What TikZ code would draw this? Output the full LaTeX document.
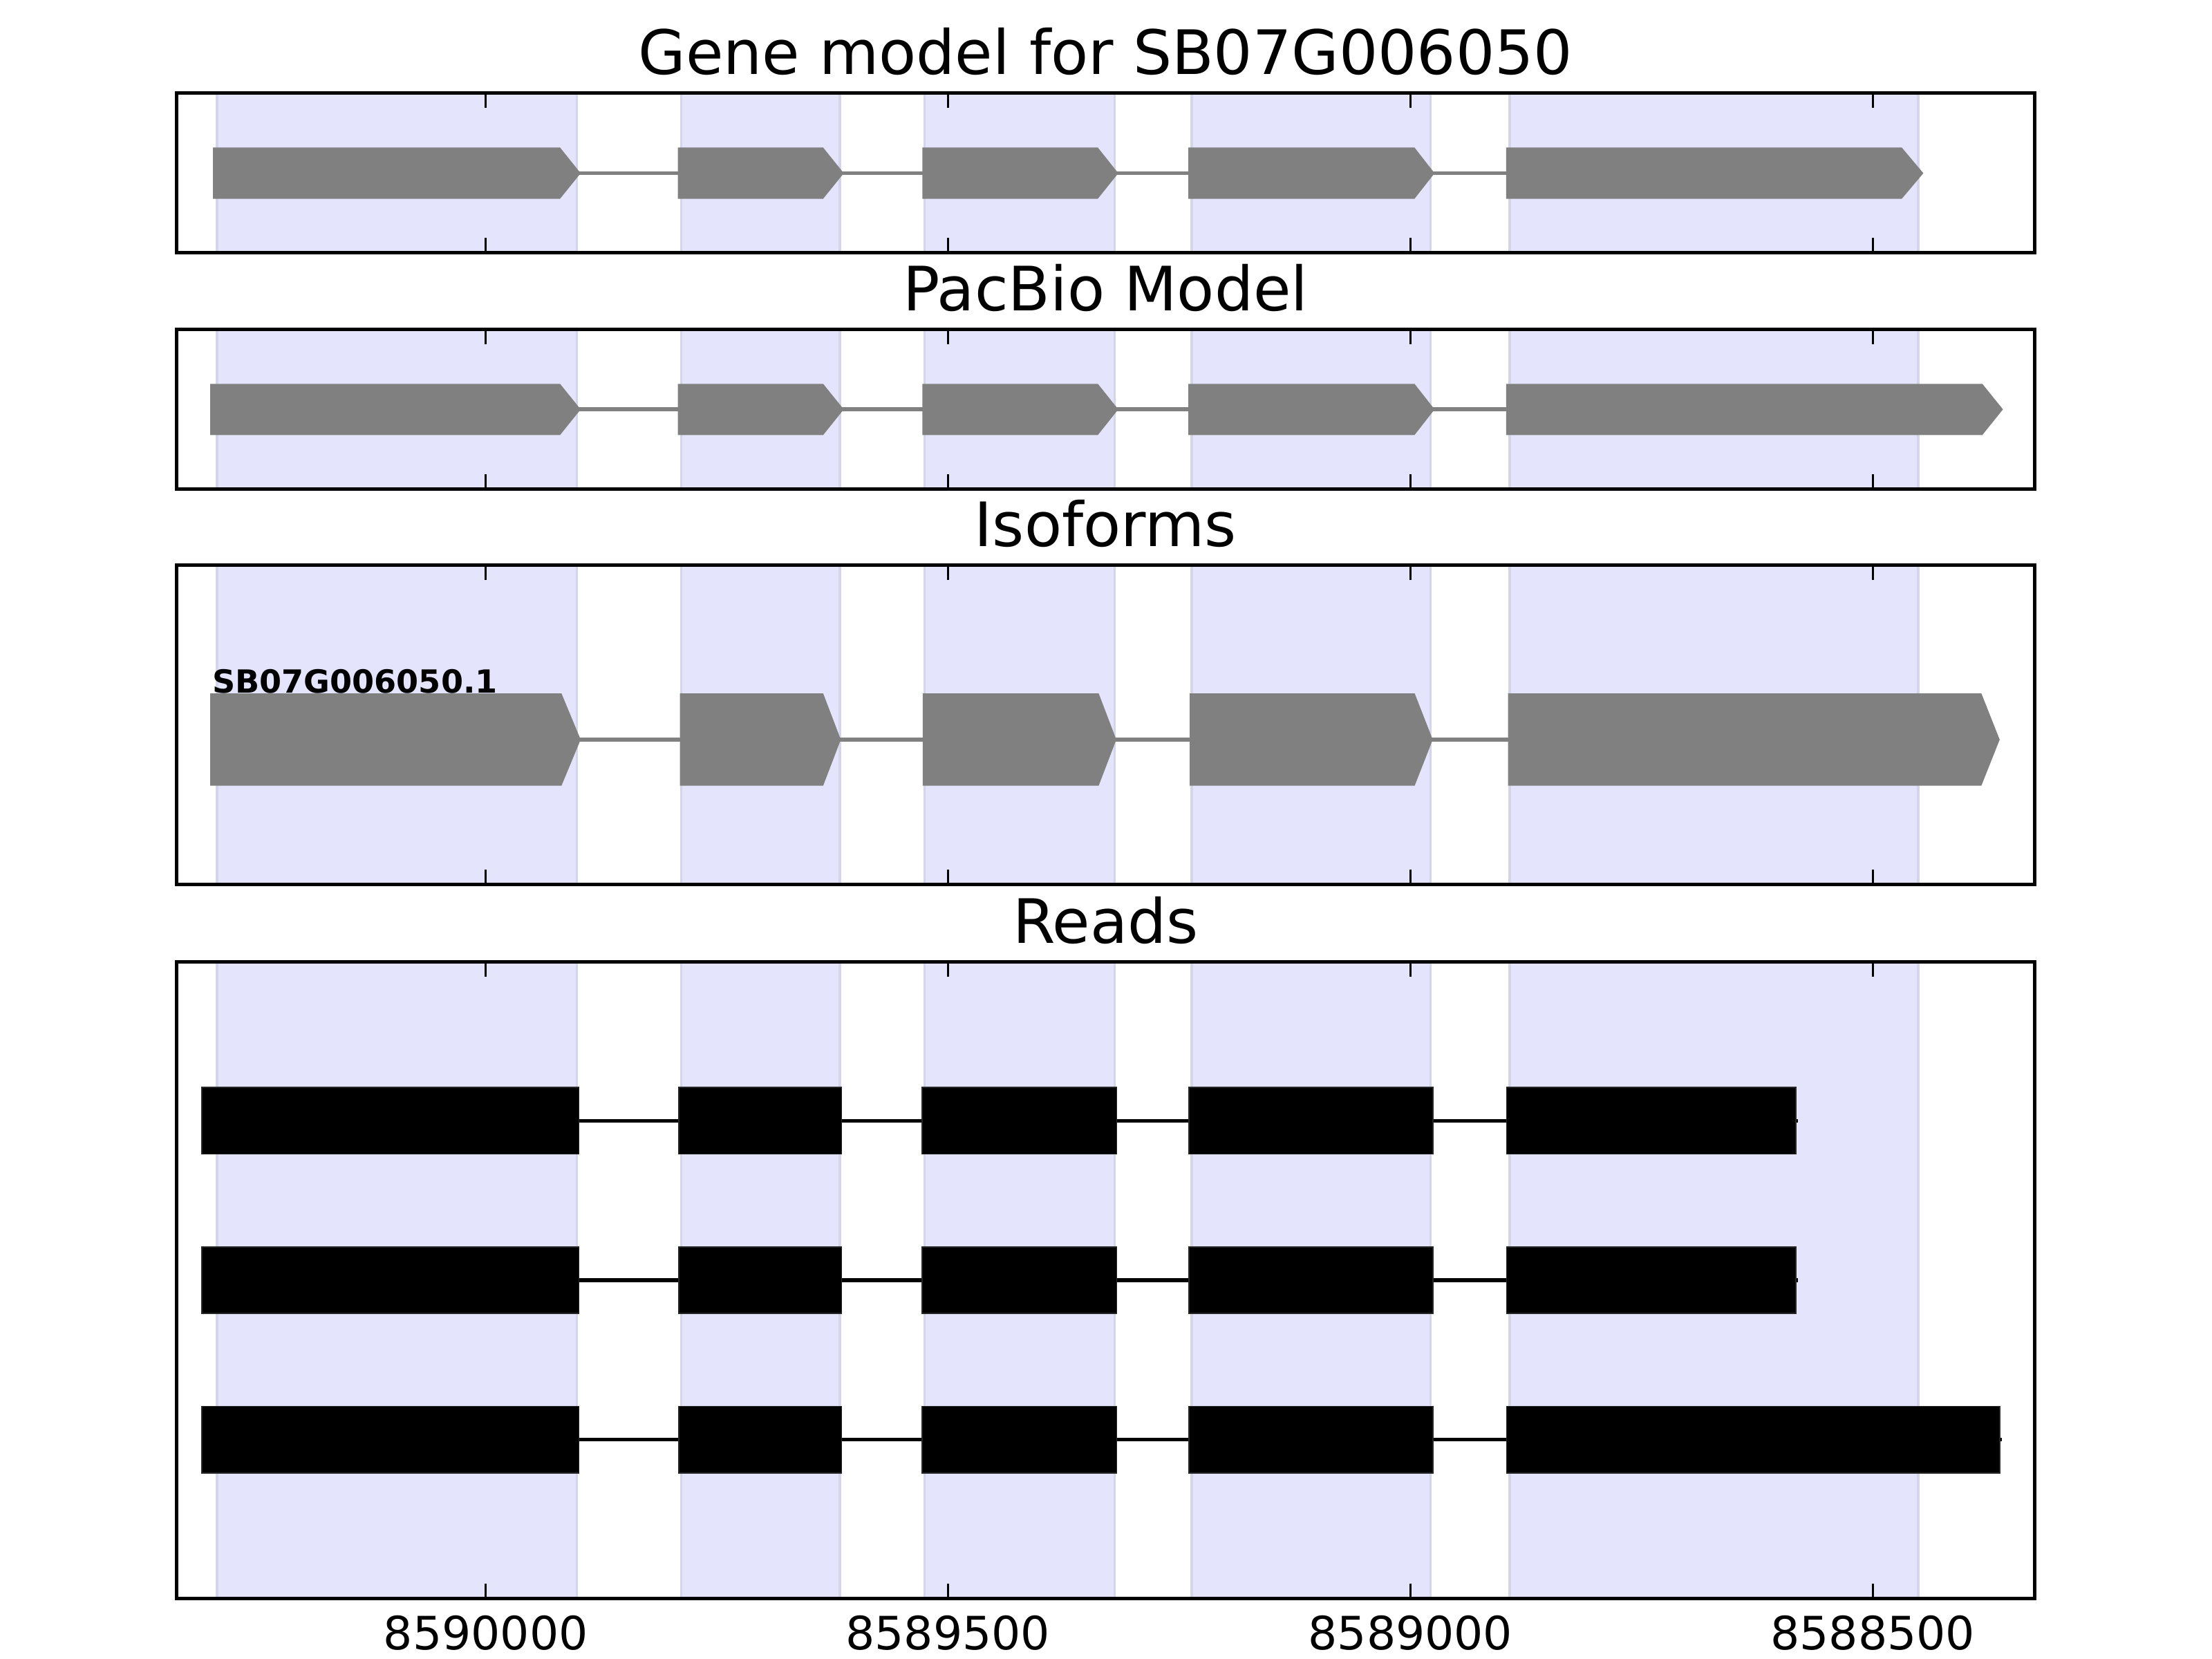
\documentclass[tikz,border=0pt]{standalone}
\usepackage{fontspec}
\setmainfont{DejaVu Sans}
\definecolor{spanfillc}{HTML}{E4E4FC}
\definecolor{spanedgec}{HTML}{D5D5EA}
\definecolor{exongray}{HTML}{808080}
\tikzset{
  panelbox/.style={draw=black, line width=0.9pt},
  tickmark/.style={draw=black, line width=0.5pt},
  spanbox/.style={fill=spanfillc, draw=spanedgec, line width=0.6pt},
  garrow/.style={fill=exongray},
  gline/.style={draw=exongray, line width=1pt},
  rline/.style={draw=black, line width=1pt},
  rexon/.style={fill=black, draw=black!85, line width=0.3pt},
  ptitle/.style={font=\fontsize{16}{19}\selectfont, anchor=base, inner sep=0pt},
  ticklabel/.style={font=\fontsize{12}{14}\selectfont, anchor=base, inner sep=0pt},
  isolabel/.style={font=\fontsize{8.33}{10}\selectfont\bfseries, anchor=base west, inner sep=0pt},
}
\begin{document}
\begin{tikzpicture}[x=0.368724pt, y=-0.368724pt]
\useasboundingbox (0,0) rectangle (1568,1176);

% ---------- shaded exon regions in every panel ----------
\foreach \pt/\pb in {66.0/179.1, 233.6/346.7, 400.7/627.1, 681.9/1133.3}{
  \foreach \sa/\sb in {153.8/409.0, 483.0/595.3, 655.4/790.2, 844.7/1014.0, 1070.1/1359.7}{
    \filldraw[spanbox] (\sa,\pt) rectangle (\sb,\pb);
  }
}

% ---------- panel 1: gene model ----------
\def\ta{104.6}\def\ma{122.8}\def\ba{140.9}
\draw[gline] (405,\ma) -- (1070,\ma);
\foreach \l/\s/\p in {151/397/411.6, 480.5/583.5/598.1, 653.8/778.2/792.7, 842.4/1002.7/1016.9, 1067.7/1348.1/1363.4}{
  \fill[garrow] (\l,\ta) -- (\s,\ta) -- (\p,\ma) -- (\s,\ba) -- (\l,\ba) -- cycle;
}

% ---------- panel 2: PacBio model ----------
\def\tb{272.1}\def\mb{290.2}\def\bb{308.4}
\draw[gline] (405,\mb) -- (1070,\mb);
\foreach \l/\s/\p in {149/397/411.6, 480.5/583.5/598.1, 653.8/778.2/792.7, 842.4/1002.7/1016.9, 1067.7/1405.2/1419.8}{
  \fill[garrow] (\l,\tb) -- (\s,\tb) -- (\p,\mb) -- (\s,\bb) -- (\l,\bb) -- cycle;
}

% ---------- panel 3: isoforms ----------
\def\tc{491.5}\def\mc{524.3}\def\bc{557.0}
\draw[gline] (405,\mc) -- (1070,\mc);
\foreach \l/\s/\p in {149/398/411.6, 482/583.5/596, 654.1/778.8/791.3, 843.4/1002.8/1015.6, 1069/1404.5/1417.5}{
  \fill[garrow] (\l,\tc) -- (\s,\tc) -- (\p,\mc) -- (\s,\bc) -- (\l,\bc) -- cycle;
}
\node[isolabel] (iso) at (150,491) {SB07G006050.1};

% ---------- panel 4: reads ----------
\foreach \c/\e in {794.5/1273, 907.5/1273, 1020.5/1417.6}{
  \draw[rline] (143.1,\c) -- (\e+1.5,\c);
  \foreach \l/\r in {143.1/410.3, 481.2/596.6, 653.8/791.6, 842.8/1015.9, 1068/\e}{
    \filldraw[rexon] (\l,\c-23.6) rectangle (\r,\c+23.6);
  }
}

% ---------- axes frames, ticks, titles ----------
\foreach \pt/\pb/\ttl/\nm in {66.0/179.1/{Gene model for SB07G006050}/t1, 233.6/346.7/{PacBio Model}/t2, 400.7/627.1/{Isoforms}/t3, 681.9/1133.3/{Reads}/t4}{
  \draw[panelbox] (125,\pt) rectangle (1442.4,\pb);
  \foreach \tx in {344.4, 671.9, 999.8, 1327.6}{
    \draw[tickmark] (\tx,\pt) -- (\tx,\pt+10.5);
    \draw[tickmark] (\tx,\pb) -- (\tx,\pb-10.5);
  }
  \node[ptitle] (\nm) at (783.7,\pt-13.1) {\ttl};
}

% ---------- x tick labels ----------
\node[ticklabel] (xl1) at (344.4,1169.5) {8590000};
\node[ticklabel] (xl2) at (671.9,1169.5) {8589500};
\node[ticklabel] (xl3) at (999.8,1169.5) {8589000};
\node[ticklabel] (xl4) at (1327.6,1169.5) {8588500};
\end{tikzpicture}
\end{document}
